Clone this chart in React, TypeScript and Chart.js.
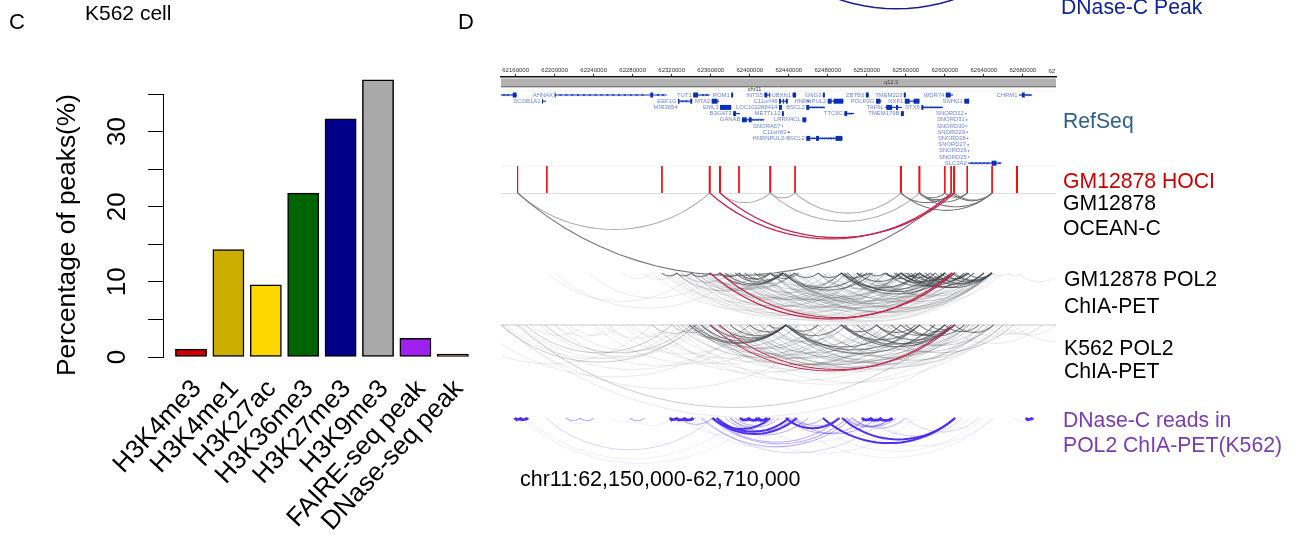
import React, { useEffect, useRef } from "react";
import { Chart, registerables } from "chart.js";

Chart.register(...registerables);

const FONT = '"Liberation Sans", Arial, Helvetica, sans-serif';

// ---- Panel C ----
const categories = ["H3K4me3", "H3K4me1", "H3K27ac", "H3K36me3", "H3K27me3", "H3K9me3", "FAIRE-seq peak", "DNase-seq peak"];
const peakPercent = [1.05, 14.3, 9.6, 21.8, 31.7, 36.9, 2.5, 0.4];
const barColors = ["#CD0000", "#CDAD00", "#FFD700", "#006400", "#00008B", "#A9A9A9", "#A020F0", "#8B4513"];

// ---- Panel D: all genomic values in kb on chr11 ----
const rulerTicks = [62160, 62200, 62240, 62280, 62320, 62360, 62400, 62440, 62480, 62520, 62560, 62600, 62640, 62680];

// name, start, end, row
const genes: [string, number, number, number][] = [
  ["", 62145, 62161, 0], ["AHNAK", 62200, 62315, 0], ["TUT1", 62342, 62359, 0], ["ROM1", 62381, 62383, 0],
  ["INTS5", 62415, 62421, 0], ["UBXN1", 62444, 62447.5, 0], ["GNG3", 62475, 62477, 0], ["ZBTB3", 62519, 62522, 0],
  ["TMEM223", 62558, 62560, 0], ["WDR74", 62601, 62608.5, 0], ["CHRM1", 62676, 62689.5, 0],
  ["SCGB1A1", 62187, 62191, 1], ["EEF1G", 62326.5, 62341, 1], ["MTA2", 62361, 62368.5, 1], ["C11orf48", 62430, 62439, 1],
  ["HNRNPUL2", 62480, 62496, 1], ["POLR2G", 62529.5, 62535, 1], ["NXF1", 62559, 62574, 1], ["SNHG1", 62620, 62625, 1],
  ["MIR3654", 62327.5, 62328.2, 2], ["EML3", 62369.5, 62381, 2], ["LOC102288414", 62430, 62433, 2], ["BSCL2", 62458, 62477, 2],
  ["TAF6L", 62539, 62556, 2], ["STX5", 62576, 62598, 2],
  ["B3GAT3", 62383, 62390, 3], ["METTL12", 62433, 62435, 3], ["TTC9C", 62497, 62507, 3], ["TMEM179B", 62555, 62558, 3], ["SNORD22", 62621, 62621.6, 3],
  ["GANAB", 62392, 62415, 4], ["LRRN4CL", 62454, 62458, 4], ["SNORD31", 62622, 62622.6, 4],
  ["SNORA57", 62433, 62433.7, 5], ["SNORD30", 62622, 62622.6, 5],
  ["C11orf83", 62439, 62441, 6], ["SNORD29", 62622.4, 62623, 6],
  ["HNRNPUL2-BSCL2", 62458, 62495, 7], ["SNORD28", 62623, 62623.6, 7],
  ["SNORD27", 62623.4, 62624, 8], ["SNORD26", 62624, 62624.6, 9], ["SNORD25", 62624, 62624.6, 10],
  ["SLC3A2", 62624, 62658, 11],
];
// row, start, end
const geneBlocks: [number, number, number][] = [
  [0, 62157, 62161], [0, 62200, 62201], [0, 62298, 62301], [0, 62342, 62347], [0, 62381, 62383], [0, 62415, 62418], [0, 62420, 62421],
  [0, 62444, 62447.5], [0, 62475, 62477], [0, 62519, 62522], [0, 62558, 62560], [0, 62601, 62606], [0, 62679, 62682],
  [1, 62187, 62188], [1, 62326.5, 62328], [1, 62339, 62341], [1, 62361, 62367], [1, 62430, 62432], [1, 62434, 62435], [1, 62437, 62439],
  [1, 62480, 62484], [1, 62486, 62496], [1, 62529.5, 62534], [1, 62559, 62564], [1, 62568, 62574], [1, 62620, 62625],
  [2, 62369.5, 62381], [2, 62430, 62433], [2, 62458, 62461], [2, 62540, 62546], [2, 62550, 62552], [2, 62576, 62578],
  [3, 62383, 62386], [3, 62433, 62435], [3, 62497, 62500], [3, 62555, 62558],
  [4, 62392, 62397], [4, 62399, 62402], [4, 62454, 62458],
  [7, 62458, 62462], [7, 62468, 62471], [7, 62488, 62495], [11, 62648, 62653],
];
// row, kb position of the small direction marks on the long introns
const geneChevrons: [number, number][] = [
  [0, 62148], [0, 62152], [0, 62206], [0, 62212], [0, 62218], [0, 62224], [0, 62230], [0, 62236], [0, 62242], [0, 62248], [0, 62254], [0, 62260],
  [0, 62266], [0, 62272], [0, 62278], [0, 62284], [0, 62290], [0, 62306], [0, 62311], [0, 62352], [0, 62356], [0, 62684], [0, 62687],
  [1, 62331], [1, 62335], [1, 62460], [2, 62463], [2, 62467], [2, 62471], [2, 62475], [2, 62579], [2, 62583], [2, 62587], [2, 62591], [2, 62595],
  [3, 62503], [4, 62404], [4, 62408], [4, 62412], [7, 62465], [7, 62474], [7, 62478], [7, 62482], [7, 62485],
  [11, 62628], [11, 62632], [11, 62636], [11, 62640], [11, 62644], [11, 62656],
];

const hociThin = [62162, 62192, 62310, 62389, 62446.5, 62574, 62600, 62606.5, 62623, 62648.5];
const hociWide = [62359, 62369.5, 62421, 62555, 62574, 62609.5, 62674];

const oceanLight: [number, number][] = [[62162, 62359], [62369.5, 62421], [62421, 62446.5], [62446.5, 62555], [62421, 62574]];
const oceanDark: [number, number][] = [[62162, 62607], [62555, 62607], [62555, 62648.5], [62574, 62600], [62574, 62610], [62574, 62623], [62600, 62623], [62607, 62648.5], [62610, 62648.5], [62574, 62648.5]];
const sharedRed: [number, number][] = [[62359, 62607], [62369.5, 62610]];

const gmStrong: [number, number][] = [
  [62310, 62325], [62325, 62340], [62340, 62359], [62359, 62369], [62369, 62389], [62389, 62421], [62405, 62421], [62421, 62434], [62430, 62446],
  [62369, 62434], [62375, 62434], [62385, 62434], [62395, 62434], [62434, 62526], [62436, 62515], [62446, 62470], [62494, 62574], [62494, 62607],
  [62497, 62590], [62500, 62600], [62510, 62523], [62523, 62538], [62538, 62555], [62555, 62574], [62555, 62600], [62555, 62610], [62574, 62600],
  [62574, 62610], [62574, 62623], [62585, 62623], [62590, 62648], [62600, 62648], [62607, 62648], [62610, 62648], [62623, 62648], [62540, 62610],
  [62560, 62585], [62565, 62607], [62570, 62648], [62421, 62450], [62470, 62494], [62510, 62555], [62550, 62620], [62580, 62640], [62494, 62520],
  [62540, 62570], [62548, 62600], [62556, 62630], [62562, 62640], [62595, 62625],
];
const gmMid: [number, number][] = [
  [62359, 62446], [62369, 62446], [62389, 62446], [62421, 62494], [62434, 62574], [62434, 62600], [62421, 62555], [62389, 62494], [62405, 62555],
  [62359, 62494], [62340, 62434], [62325, 62421], [62470, 62555], [62470, 62610], [62510, 62610], [62494, 62648], [62523, 62648], [62434, 62648],
  [62421, 62610], [62446, 62610], [62389, 62574], [62369, 62555], [62494, 62623], [62480, 62574], [62405, 62494], [62434, 62560], [62434, 62590],
  [62440, 62620], [62345, 62430], [62350, 62410], [62330, 62380], [62355, 62500], [62375, 62520], [62395, 62540], [62410, 62600], [62430, 62640],
  [62450, 62600], [62460, 62648], [62475, 62630], [62490, 62560], [62515, 62600], [62520, 62640], [62505, 62580], [62340, 62520],
];
const gmFaint: [number, number][] = [
  [62192, 62345], [62235, 62370], [62290, 62325], [62300, 62500], [62310, 62540], [62325, 62555], [62340, 62574], [62359, 62600], [62369, 62623],
  [62389, 62648], [62405, 62610], [62325, 62500], [62359, 62540], [62325, 62446], [62648, 62665], [62665, 62680], [62674, 62720],
  [62420, 62648], [62400, 62640], [62380, 62620], [62330, 62430], [62345, 62480], [62270, 62300], [62200, 62390], [62315, 62530], [62320, 62570],
  [62335, 62590], [62350, 62610], [62365, 62630], [62380, 62648], [62395, 62655], [62410, 62650], [62312, 62470], [62318, 62510], [62332, 62555],
  [62346, 62545], [62360, 62570], [62372, 62600], [62384, 62585], [62398, 62620], [62412, 62625], [62425, 62635], [62440, 62650], [62456, 62650],
  [62470, 62660], [62485, 62650], [62360, 62480], [62370, 62510], [62380, 62530], [62400, 62560], [62420, 62580],
];

const k562Strong: [number, number][] = [
  [62338, 62437], [62342, 62437], [62350, 62437], [62360, 62437], [62368, 62437], [62380, 62437], [62437, 62494], [62437, 62470], [62494, 62574],
  [62494, 62610], [62497, 62600], [62494, 62530], [62510, 62610], [62530, 62610], [62555, 62610], [62574, 62610], [62585, 62610], [62437, 62555],
  [62440, 62574], [62437, 62590], [62400, 62437], [62420, 62437], [62600, 62635], [62610, 62650], [62530, 62570], [62545, 62600], [62560, 62620],
];
const k562Mid: [number, number][] = [
  [62162, 62607], [62170, 62320], [62145, 62345], [62190, 62340], [62325, 62500], [62340, 62555], [62360, 62574], [62380, 62610], [62338, 62494],
  [62400, 62574], [62420, 62623], [62437, 62648], [62470, 62660], [62520, 62670], [62300, 62345], [62320, 62360], [62360, 62420], [62530, 62640],
  [62350, 62530], [62390, 62540], [62410, 62610], [62345, 62470], [62345, 62560], [62352, 62480], [62358, 62520], [62366, 62545], [62374, 62590],
  [62388, 62600], [62396, 62625], [62410, 62500], [62420, 62530], [62430, 62620], [62445, 62610], [62455, 62630], [62465, 62605], [62480, 62600],
  [62505, 62650], [62515, 62625], [62540, 62650], [62330, 62400], [62335, 62450],
];
const k562Faint: [number, number][] = [
  [62147, 62645], [62090, 62300], [62145, 62490], [62175, 62230], [62215, 62270], [62250, 62320], [62275, 62340], [62160, 62400], [62200, 62420],
  [62240, 62450], [62280, 62540], [62300, 62600], [62320, 62640], [62350, 62660], [62640, 62690], [62660, 62714], [62670, 62760], [62200, 62260],
  [62300, 62550], [62270, 62480], [62150, 62330], [62165, 62345], [62185, 62355], [62210, 62350], [62255, 62410], [62290, 62470], [62310, 62510],
  [62330, 62570], [62348, 62610], [62362, 62600], [62376, 62615], [62390, 62640], [62404, 62645], [62418, 62655], [62432, 62660], [62448, 62665],
  [62620, 62680], [62600, 62700], [62650, 62700], [62120, 62400],
];

const dnaseStrong: [number, number][] = [
  [62475, 62610.5], [62494.6, 62610.5], [62362, 62448], [62362, 62421], [62366, 62440], [62437, 62492],
];
const dnaseBlobs: [number, number][] = [
  [62159, 62166], [62164, 62172], [62318, 62326], [62324, 62334], [62332, 62342], [62390, 62400], [62398, 62410], [62406, 62418],
  [62515, 62525], [62523, 62535], [62533, 62546], [62683, 62690],
];
const dnaseMid: [number, number][] = [
  [62362, 62492.6], [62368, 62460], [62375, 62445], [62380, 62430], [62385, 62425], [62437, 62520], [62441, 62475], [62447, 62490], [62500, 62545],
  [62445, 62530], [62380, 62450], [62505, 62560], [62497, 62545], [62505, 62550], [62360, 62500], [62350, 62505], [62340, 62345],
  [62212, 62226], [62226, 62240], [62277, 62292], [62328, 62362],
];
const dnaseLight: [number, number][] = [[62191, 62362], [62352, 62540], [62520, 62618], [62560, 62635]];
const dnaseFaint: [number, number][] = [
  [62165, 62410], [62170, 62390], [62380, 62570], [62437, 62650], [62340, 62500], [62460, 62640], [62210, 62240], [62258, 62280], [62500, 62650],
  [62525, 62625], [62400, 62530], [62330, 62420], [62670, 62690], [62280, 62320],
];
const dnaseCPeakArc: [number, number][] = [[62427, 62674]];

// ---- Geometry of panel D (canvas pixel rows) ----
const X_MIN = 62145;
const X_MAX = 62714;
const PX_PER_KB = 555 / (X_MAX - X_MIN);
const ARC_RATIO = 0.19;

function arcPoints(a: number, b: number, top: number) {
  const half = ((b - a) * PX_PER_KB) / 2;
  const sag = ARC_RATIO * 2 * half;
  const R = (half * half + sag * sag) / (2 * sag);
  const phi = Math.asin(half / R);
  const mid = (a + b) / 2;
  const pts: { x: number; y: number }[] = [];
  for (let i = 0; i <= 24; i++) {
    const t = -phi + (2 * phi * i) / 24;
    pts.push({ x: mid + (R * Math.sin(t)) / PX_PER_KB, y: top + R * Math.cos(t) - (R - sag) });
  }
  return pts;
}

function rule(points: { x: number; y: number }[], color: string, width: number) {
  return { data: points, showLine: true, borderColor: color, backgroundColor: color, borderWidth: width, pointRadius: 0, tension: 0 };
}

function arcs(list: [number, number][], top: number, color: string, width = 1, extra: any = {}) {
  return list.map(([a, b]) => ({ ...rule(arcPoints(a, b, top), color, width), ...extra }));
}

const geneRow = (r: number) => 95 + 6.2 * r;

function buildDatasets() {
  const ds: any[] = [];
  // chromosome band + track rules
  ds.push(rule([{ x: X_MIN, y: 82.5 }, { x: X_MAX, y: 82.5 }], "#b2b2b2", 8));
  ds.push(rule([{ x: X_MIN, y: 86.8 }, { x: X_MAX, y: 86.8 }], "#555555", 1));
  ds.push(rule([{ x: X_MIN, y: 91 }, { x: X_MAX, y: 91 }], "#f2f2f2", 1));
  ds.push(rule([{ x: X_MIN, y: 166 }, { x: X_MAX, y: 166 }], "#f0f0f0", 1));
  ds.push(rule([{ x: X_MIN, y: 193.5 }, { x: X_MAX, y: 193.5 }], "#dddddd", 1));
  ds.push(rule([{ x: X_MIN, y: 325 }, { x: X_MAX, y: 325 }], "#cccccc", 1));
  // genes
  genes.forEach(([, s, e, r]) => ds.push(rule([{ x: s, y: geneRow(r) }, { x: Math.max(e, s + 1), y: geneRow(r) }], "#1238b8", 1.2)));
  geneBlocks.forEach(([r, s, e]) => ds.push(rule([{ x: s, y: geneRow(r) }, { x: e, y: geneRow(r) }], "#0b2fb4", 5)));
  ds.push({
    data: geneChevrons.map(([r, k]) => ({ x: k, y: geneRow(r) })),
    showLine: false,
    pointStyle: "crossRot",
    pointRadius: 1.6,
    pointBorderWidth: 0.8,
    pointBorderColor: "#1238b8",
    pointBackgroundColor: "#1238b8",
  });
  // HOCI peaks
  hociThin.forEach((k) => ds.push(rule([{ x: k, y: 166 }, { x: k, y: 193 }], "#f01010", 1)));
  hociWide.forEach((k) => ds.push(rule([{ x: k, y: 166 }, { x: k, y: 193 }], "#f01010", 2)));
  // arcs, faint first so that the strong ones land on top
  ds.push(...arcs(gmFaint, 273, "rgba(90,95,100,0.13)"));
  ds.push(...arcs(gmMid, 273, "rgba(80,85,90,0.30)"));
  ds.push(...arcs(gmStrong, 273, "rgba(65,70,75,0.65)", 1.2));
  ds.push(...arcs(k562Faint, 325, "rgba(90,95,100,0.13)"));
  ds.push(...arcs(k562Mid, 325, "rgba(85,90,95,0.30)"));
  ds.push(...arcs(k562Strong, 325, "rgba(65,70,75,0.62)", 1.2));
  ds.push(...arcs(oceanLight, 193, "#adadad", 1.1));
  ds.push(...arcs(oceanDark, 193, "#767676", 1.1));
  ds.push(...arcs(sharedRed, 193, "#c2254f", 1.3));
  ds.push(...arcs(sharedRed, 273, "#c2254f", 1.2));
  ds.push(...arcs(sharedRed, 325, "#c2254f", 1));
  ds.push(...arcs(dnaseFaint, 418, "rgba(90,70,240,0.10)"));
  ds.push(...arcs(dnaseLight, 418, "rgba(90,70,220,0.22)"));
  ds.push(...arcs(dnaseMid, 418, "rgba(80,55,240,0.42)"));
  ds.push(...arcs(dnaseStrong, 418, "#4a30f0", 2));
  ds.push(...arcs(dnaseBlobs, 418, "#4a30f0", 2.6));
  ds.push(...arcs(dnaseCPeakArc, -37, "#1c1c8e", 1.5, { clip: false }));
  return ds.reverse();
}

const panelDText = {
  id: "panelDText",
  afterDatasetsDraw(chart: any) {
    const { ctx, scales, chartArea } = chart;
    ctx.save();
    ctx.font = `5.9px ${FONT}`;
    ctx.textBaseline = "middle";
    ctx.textAlign = "right";
    ctx.fillStyle = "#6d84d8";
    genes.forEach(([name, s, , r]) => {
      if (name) ctx.fillText(name, scales.x.getPixelForValue(s) - 1.5, geneRow(r));
    });
    ctx.textAlign = "center";
    ctx.fillStyle = "#444444";
    ctx.font = `5.6px ${FONT}`;
    ctx.fillText("chr11", scales.x.getPixelForValue(62405), 89.2);
    ctx.fillText("q12.3", scales.x.getPixelForValue(62545), 82.8);
    ctx.fillStyle = "#333333";
    ctx.font = `6px ${FONT}`;
    ctx.beginPath();
    ctx.rect(chartArea.left, 60, chartArea.right - chartArea.left, 17);
    ctx.clip();
    ctx.textBaseline = "bottom";
    ctx.fillText("62720000", scales.x.getPixelForValue(62720), 74.5);
    ctx.restore();
  },
};

export default function App() {
  const leftRef = useRef<HTMLCanvasElement>(null);
  const rightRef = useRef<HTMLCanvasElement>(null);

  useEffect(() => {
    const left = new Chart(leftRef.current as HTMLCanvasElement, {
      type: "bar",
      data: {
        datasets: [
          {
            data: peakPercent.map((v, i) => ({ x: i, y: v })),
            backgroundColor: barColors,
            borderColor: "#000000",
            borderWidth: 1.5,
            borderSkipped: false,
            barThickness: 31.2,
            clip: false,
          } as any,
        ],
      },
      options: {
        responsive: false,
        animation: false,
        layout: { padding: { top: 94, right: 10, left: 0, bottom: 0 } },
        plugins: { legend: { display: false }, tooltip: { enabled: false } },
        scales: {
          x: {
            type: "linear",
            offset: false,
            min: -0.749,
            max: 7.727,
            grid: { display: false, offset: false },
            border: { display: false },
            afterFit: (s: any) => { s.height = 178; },
            afterBuildTicks: (s: any) => { s.ticks = categories.map((_, i) => ({ value: i })); },
            ticks: {
              autoSkip: false,
              minRotation: 47,
              maxRotation: 47,
              padding: 9,
              labelOffset: 6,
              color: "#000000",
              font: { family: FONT, size: 26 },
              callback: (v: any) => categories[v as number],
            },
          },
          y: {
            min: 0,
            max: 35,
            afterFit: (s: any) => { s.width = 163; },
            border: { color: "#000000", width: 1 },
            grid: { drawOnChartArea: false, color: "#000000", tickLength: 15, tickWidth: 1 },
            title: {
              display: true,
              text: "Percentage of peaks(%)",
              align: "end",
              color: "#000000",
              font: { family: FONT, size: 26.3 },
              padding: { top: 52, bottom: 0 },
            },
            ticks: {
              stepSize: 5,
              minRotation: 90,
              maxRotation: 90,
              crossAlign: "center",
              padding: 16,
              color: "#000000",
              font: { family: FONT, size: 26 },
              callback: (v: any) => (Number(v) % 10 === 0 ? String(v) : ""),
            },
          } as any,
        },
      } as any,
    });

    const right = new Chart(rightRef.current as HTMLCanvasElement, {
      type: "scatter",
      data: { datasets: buildDatasets() },
      plugins: [panelDText],
      options: {
        responsive: false,
        animation: false,
        parsing: false,
        normalized: true,
        layout: { autoPadding: false, padding: { left: 11, right: 244, top: 0, bottom: 0 } },
        plugins: { legend: { display: false }, tooltip: { enabled: false } },
        scales: {
          x: {
            type: "linear",
            position: "top",
            min: X_MIN,
            max: X_MAX,
            afterFit: (s: any) => { s.height = 77; },
            afterBuildTicks: (s: any) => { s.ticks = rulerTicks.map((value) => ({ value })); },
            border: { color: "#111111", width: 1.5 },
            grid: { drawOnChartArea: false, color: "#333333", tickLength: 3 },
            ticks: {
              autoSkip: false,
              minRotation: 0,
              maxRotation: 0,
              padding: 0,
              color: "#333333",
              font: { family: FONT, size: 6 },
              callback: (v: any) => String(Number(v) * 1000),
            },
          },
          y: { display: false, reverse: true, min: 77, max: 535 },
        },
      } as any,
    });

    return () => {
      left.destroy();
      right.destroy();
    };
  }, []);

  const label = (text: string, x: number, y: number, color: string, size = 21.2) => (
    <div style={{ position: "absolute", left: x, top: y, color, fontSize: size, lineHeight: `${Math.round(size) + 4}px`, whiteSpace: "nowrap", fontFamily: FONT }}>{text}</div>
  );

  return (
    <div style={{ position: "absolute", left: 0, top: 0, width: 1300, height: 535, overflow: "hidden", background: "#ffffff" }}>
      <canvas ref={leftRef} width={490} height={535} style={{ position: "absolute", left: 0, top: 0 }} />
      <canvas ref={rightRef} width={810} height={535} style={{ position: "absolute", left: 490, top: 0 }} />
      {label("C", 9, 9, "#000000", 22)}
      {label("K562 cell", 85, 0, "#000000", 21)}
      {label("D", 458, 9, "#000000", 22)}
      {label("DNase-C Peak", 1061, -6, "#10249a")}
      {label("RefSeq", 1063, 108, "#2f5f8a")}
      {label("GM12878 HOCI", 1063, 168, "#cc0000")}
      {label("GM12878", 1063, 190, "#000000")}
      {label("OCEAN-C", 1063, 215, "#000000")}
      {label("GM12878 POL2", 1064, 266, "#000000")}
      {label("ChIA-PET", 1064, 293, "#000000")}
      {label("K562 POL2", 1064, 335, "#000000")}
      {label("ChIA-PET", 1064, 358, "#000000")}
      {label("DNase-C reads in", 1063, 407, "#7a3db0")}
      {label("POL2 ChIA-PET(K562)", 1063, 432, "#7a3db0")}
      {label("chr11:62,150,000-62,710,000", 520, 466, "#000000", 21.5)}
    </div>
  );
}
